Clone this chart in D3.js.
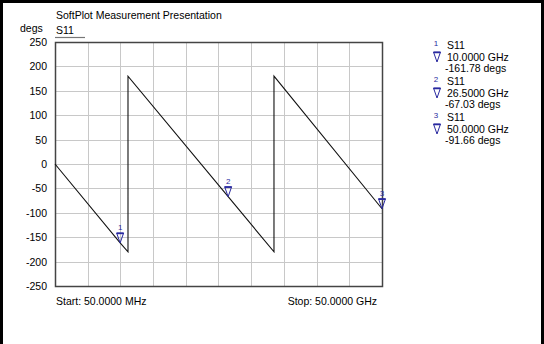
<!DOCTYPE html>
<html>
<head>
<meta charset="utf-8">
<script src="https://cdn.jsdelivr.net/npm/d3@7"></script>
<style>
body { margin:0; padding:0; background:#fff; }
svg { display:block; font-family:"Liberation Sans", Arial, sans-serif; }
</style>
</head>
<body>
<div class="chart"></div>
<script>
// trace data (GHz, degs) - breakpoints of the wrapped phase
const freqs = [0.05, 10, 11.2, 11.2, 26.5, 33.5, 33.5, 50];
const phases = [0, -161.78, -180, 180, -67.03, -180, 180, -91.66];
// markers
const markerFreqs = [10, 26.5, 50];
const markerPhases = [-161.78, -67.03, -91.66];
const markerLabels = ["10.0000 GHz", "26.5000 GHz", "50.0000 GHz"];
const yTicks = [250, 200, 150, 100, 50, 0, -50, -100, -150, -200, -250];
const xGrid = [0.05, 5.045, 10.04, 15.035, 20.03, 25.025, 30.02, 35.015, 40.01, 45.005, 49.99];

const W = 544, H = 344;
const pLeft = 55, pRight = 382, pTop = 42, pBottom = 286;
const markColor = "#2a2aa0";

var svg = d3.select(".chart").append("svg")
    .attr("width", W).attr("height", H);

// outer frame (no bottom edge)
svg.append("path")
    .attr("d", `M1.5,${H} V1.5 H542.5 V${H}`)
    .attr("fill", "none").attr("stroke", "#000").attr("stroke-width", 3);

var x = d3.scaleLinear().domain([0.05, 50]).range([pLeft, pRight]);
var y = d3.scaleLinear().domain([-250, 250]).range([pBottom, pTop]);

// grid
svg.selectAll(".hgrid").data(yTicks).enter().append("line")
    .attr("x1", pLeft).attr("x2", pRight)
    .attr("y1", d => Math.round(y(d)) + 0.5).attr("y2", d => Math.round(y(d)) + 0.5)
    .attr("stroke", "#c8c8c8").attr("stroke-width", 1);
svg.selectAll(".vgrid").data(xGrid).enter().append("line")
    .attr("y1", pTop).attr("y2", pBottom)
    .attr("x1", d => Math.round(x(d)) + 0.5).attr("x2", d => Math.round(x(d)) + 0.5)
    .attr("stroke", "#c8c8c8").attr("stroke-width", 1);

// plot frame
svg.append("rect")
    .attr("x", pLeft + 0.5).attr("y", pTop + 0.5)
    .attr("width", pRight - pLeft).attr("height", pBottom - pTop)
    .attr("fill", "none").attr("stroke", "#444").attr("stroke-width", 1.5);

// y tick labels
svg.selectAll(".ytick").data(yTicks).enter().append("text")
    .attr("x", 47).attr("y", d => y(d) + 4)
    .attr("text-anchor", "end")
    .attr("font-size", "10.5px").attr("fill", "#000")
    .text(d => d);

// trace
var line = d3.line().x((d, i) => x(freqs[i])).y(d => y(d));
svg.append("path")
    .datum(phases)
    .attr("d", line)
    .attr("fill", "none").attr("stroke", "#111").attr("stroke-width", 1.1);

// marker glyph
function triangle(g, cx, tipY) {
    g.append("path")
        .attr("d", `M${cx - 3.5},${tipY - 10} L${cx + 3.5},${tipY - 10} L${cx},${tipY} Z`)
        .attr("fill", "none").attr("stroke", markColor).attr("stroke-width", 1);
    g.append("line")
        .attr("x1", cx - 3.5).attr("x2", cx + 3.5)
        .attr("y1", tipY - 9.5).attr("y2", tipY - 9.5)
        .attr("stroke", markColor).attr("stroke-width", 1.5);
}

markerFreqs.forEach(function(f, i) {
    var cx = x(f), ty = y(markerPhases[i]);
    var g = svg.append("g");
    triangle(g, cx, ty);
    g.append("text")
        .attr("x", cx).attr("y", ty - 13)
        .attr("text-anchor", "middle")
        .attr("font-size", "8px").attr("fill", markColor)
        .text(i + 1);
});

// marker legend
markerFreqs.forEach(function(f, i) {
    var by = 49 + i * 36;
    var g = svg.append("g");
    g.append("text").attr("x", 436).attr("y", by - 3)
        .attr("text-anchor", "middle")
        .attr("font-size", "8px").attr("fill", markColor).text(i + 1);
    g.append("text").attr("x", 447).attr("y", by)
        .attr("font-size", "10.5px").text("S11");
    triangle(g, 437, by + 13);
    g.append("text").attr("x", 447).attr("y", by + 12)
        .attr("font-size", "10.5px").text(markerLabels[i]);
    g.append("text").attr("x", 445).attr("y", by + 23)
        .attr("font-size", "10.5px").text(markerPhases[i].toFixed(2) + " degs");
});

// titles
svg.append("text").attr("x", 56).attr("y", 19)
    .attr("font-size", "10.5px").text("SoftPlot Measurement Presentation");
svg.append("text").attr("x", 20).attr("y", 32)
    .attr("font-size", "10.5px").text("degs");
svg.append("text").attr("x", 56).attr("y", 34)
    .attr("font-size", "10.5px").text("S11");
svg.append("line")
    .attr("x1", 55).attr("x2", 85).attr("y1", 37.5).attr("y2", 37.5)
    .attr("stroke", "#777").attr("stroke-width", 1.2);

// start / stop
svg.append("text").attr("x", 56).attr("y", 305)
    .attr("font-size", "10.5px").text("Start: 50.0000 MHz");
svg.append("text").attr("x", 377).attr("y", 305)
    .attr("text-anchor", "end")
    .attr("font-size", "10.5px").text("Stop: 50.0000 GHz");
</script>
</body>
</html>
